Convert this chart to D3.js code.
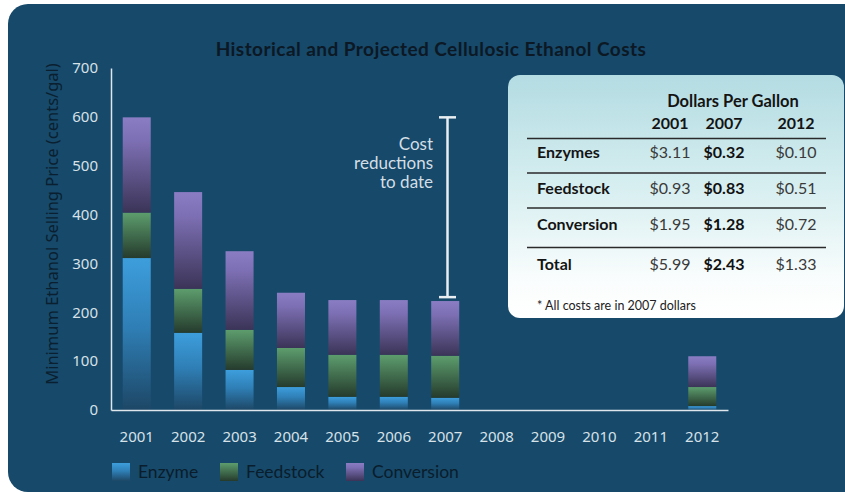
<!DOCTYPE html>
<html>
<head>
<meta charset="utf-8">
<script src="https://cdn.jsdelivr.net/npm/d3@7"></script>
<style>
  html, body { margin: 0; padding: 0; background: #ffffff; }
  svg { display: block; }
</style>
</head>
<body>
<svg id="chart" width="845" height="493"></svg>
<script>
// ---- data (cents per gallon) ----
const years = ["2001", "2002", "2003", "2004", "2005", "2006", "2007", "2008", "2009", "2010", "2011", "2012"];
const enzyme     = [311, 158, 82, 47, 27, 27, 25, 0, 0, 0, 0, 8];
const feedstock  = [93, 90, 82, 80, 86, 86, 86, 0, 0, 0, 0, 39];
const conversion = [195, 198, 161, 113, 112, 112, 112, 0, 0, 0, 0, 63];
const seriesNames = ["Enzyme", "Feedstock", "Conversion"];
const yTicks = [0, 100, 200, 300, 400, 500, 600, 700];

// bracket spanning the 2001 total down to the 2007 level
const bracketTop = 599;
const bracketBottom = 231;
const bracketLines = ["Cost", "reductions", "to date"];

// ---- summary table (dollars per gallon) ----
const tableCols = ["2001", "2007", "2012"];
const tableRows = ["Enzymes", "Feedstock", "Conversion", "Total"];
const tableVals2001 = ["$3.11", "$0.93", "$1.95", "$5.99"];
const tableVals2007 = ["$0.32", "$0.83", "$1.28", "$2.43"];
const tableVals2012 = ["$0.10", "$0.51", "$0.72", "$1.33"];

const svg = d3.select("#chart");
const defs = svg.append("defs");

// vertical gradients for each stacked segment
const gradStops = {
  Enzyme:     [["0%", "#3d9edc"], ["45%", "#2f7fb6"], ["100%", "#1d4766"]],
  Feedstock:  [["0%", "#5d9d6d"], ["100%", "#253b2d"]],
  Conversion: [["0%", "#8b7dc4"], ["25%", "#7d6fb3"], ["100%", "#3b3457"]]
};
seriesNames.forEach(n => {
  const g = defs.append("linearGradient").attr("id", "g-" + n)
    .attr("x1", 0).attr("y1", 0).attr("x2", 0).attr("y2", 1);
  gradStops[n].forEach(s => g.append("stop").attr("offset", s[0]).attr("stop-color", s[1]));
});
const tg = defs.append("linearGradient").attr("id", "g-table")
  .attr("x1", 0).attr("y1", 0).attr("x2", 0).attr("y2", 1);
tg.append("stop").attr("offset", "0%").attr("stop-color", "#b3dce2");
tg.append("stop").attr("offset", "45%").attr("stop-color", "#d6eef0");
tg.append("stop").attr("offset", "85%").attr("stop-color", "#fafdfd");
tg.append("stop").attr("offset", "100%").attr("stop-color", "#ffffff");

// panel background
svg.append("rect").attr("x", 8).attr("y", 4).attr("width", 860).attr("height", 488)
  .attr("rx", 20).attr("fill", "#16496a");

// title
svg.append("text").attr("x", 431).attr("y", 56).attr("text-anchor", "middle")
  .attr("font-family", "Lato, sans-serif").attr("font-weight", 700).attr("font-size", 19)
  .attr("letter-spacing", 0.45)
  .attr("fill", "#0c1824").text("Historical and Projected Cellulosic Ethanol Costs");

// scales
const x = d3.scaleBand().domain(years).range([111, 728]).paddingInner(0.455).paddingOuter(0.228);
const y = d3.scaleLinear().domain([0, 700]).range([410, 68]);

const rows = years.map((yr, i) => ({ year: yr, Enzyme: enzyme[i], Feedstock: feedstock[i], Conversion: conversion[i] }));
const stacked = d3.stack().keys(seriesNames)(rows);

svg.append("g").selectAll("g").data(stacked).join("g")
  .attr("fill", d => "url(#g-" + d.key + ")")
  .selectAll("rect").data(d => d.filter(p => p[1] > p[0])).join("rect")
  .attr("x", d => x(d.data.year))
  .attr("width", x.bandwidth())
  .attr("y", d => y(d[1]))
  .attr("height", d => y(d[0]) - y(d[1]));

// axes
const axisFont = "'Noto Sans', 'Open Sans', sans-serif";
const yAxis = svg.append("g").attr("transform", "translate(111,0)")
  .call(d3.axisLeft(y).tickValues(yTicks).tickSize(0).tickPadding(13));
const xAxis = svg.append("g").attr("transform", "translate(0,410)")
  .call(d3.axisBottom(x).tickSize(0).tickPadding(21));
[yAxis, xAxis].forEach(a => {
  a.attr("font-family", axisFont);
  a.select(".domain").attr("stroke", "#dfe7ec").attr("stroke-width", 1.5);
  a.selectAll("text").attr("font-family", axisFont)
    .attr("font-size", 15).attr("fill", "#d6e1e8");
});

// y axis title
svg.append("text").attr("transform", "translate(57.5,224) rotate(-90)")
  .attr("text-anchor", "middle").attr("font-family", axisFont)
  .attr("font-size", 16.5).attr("fill", "#0a1f2f")
  .text("Minimum Ethanol Selling Price (cents/gal)");

// cost reduction bracket
const bx = 447.5;
const br = svg.append("g").attr("stroke", "#e8eef2").attr("stroke-width", 2.5);
br.append("line").attr("x1", bx).attr("x2", bx).attr("y1", y(bracketTop)).attr("y2", y(bracketBottom));
br.append("line").attr("x1", bx - 8.5).attr("x2", bx + 8.5).attr("y1", y(bracketTop)).attr("y2", y(bracketTop));
br.append("line").attr("x1", bx - 8.5).attr("x2", bx + 8.5).attr("y1", y(bracketBottom)).attr("y2", y(bracketBottom));
svg.append("g").selectAll("text").data(bracketLines).join("text")
  .attr("x", 433).attr("y", (d, i) => 150 + i * 19)
  .attr("text-anchor", "end").attr("font-family", "Lato, sans-serif")
  .attr("font-size", 17).attr("fill", "#d3dee5").text(d => d);

// legend
const legendX = [112, 220, 346];
const lg = svg.append("g").selectAll("g").data(seriesNames).join("g")
  .attr("transform", (d, i) => `translate(${legendX[i]},463)`);
lg.append("rect").attr("width", 18).attr("height", 18).attr("fill", d => "url(#g-" + d + ")");
lg.append("text").attr("x", 26).attr("y", 14.5).attr("font-family", "Lato, sans-serif")
  .attr("font-size", 17.5).attr("fill", "#0a1d2c").text(d => d);

// summary table
const tbl = svg.append("g");
tbl.append("rect").attr("x", 508).attr("y", 75).attr("width", 336).attr("height", 243)
  .attr("rx", 12).attr("fill", "url(#g-table)");
const colX = [670, 724, 796];
const tFont = "Lato, sans-serif";
tbl.append("text").attr("x", 733).attr("y", 107).attr("text-anchor", "middle")
  .attr("font-family", tFont).attr("font-weight", 700).attr("font-size", 16.5)
  .attr("fill", "#141414").text("Dollars Per Gallon");
tbl.selectAll("text.col").data(tableCols).join("text").attr("class", "col")
  .attr("x", (d, i) => colX[i]).attr("y", 129).attr("text-anchor", "middle")
  .attr("font-family", tFont).attr("font-weight", 700).attr("font-size", 16)
  .attr("fill", "#141414").text(d => d);
const ruleY = [138.5, 173, 208, 247.5];
tbl.selectAll("line").data(ruleY).join("line")
  .attr("x1", 527).attr("x2", 826).attr("y1", d => d).attr("y2", d => d)
  .attr("stroke", "#2a2a2a").attr("stroke-width", 1.5);
const rowY = [158, 194, 230, 270];
tbl.selectAll("text.row").data(tableRows).join("text").attr("class", "row")
  .attr("x", 537).attr("y", (d, i) => rowY[i])
  .attr("font-family", tFont).attr("font-weight", 700).attr("font-size", 16)
  .attr("fill", "#141414").text(d => d);
[tableVals2001, tableVals2007, tableVals2012].forEach((vals, c) => {
  tbl.append("g").selectAll("text").data(vals).join("text")
    .attr("x", colX[c]).attr("y", (d, i) => rowY[i]).attr("text-anchor", "middle")
    .attr("font-family", tFont).attr("font-size", 16)
    .attr("font-weight", c === 1 ? 700 : 400)
    .attr("fill", c === 1 ? "#111111" : "#3a3a3a").text(d => d);
});
tbl.append("text").attr("x", 537).attr("y", 310)
  .attr("font-family", tFont).attr("font-size", 12.5).attr("fill", "#222222")
  .text("* All costs are in 2007 dollars");
</script>
</body>
</html>
